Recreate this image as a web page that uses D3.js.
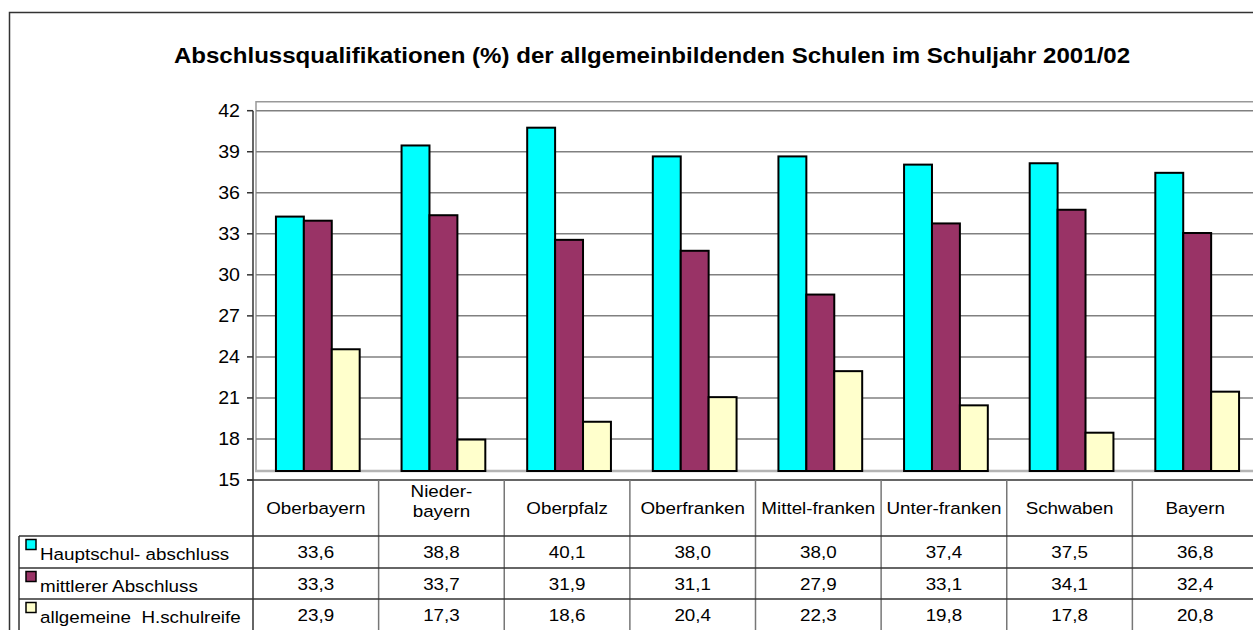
<!DOCTYPE html>
<html>
<head>
<meta charset="utf-8">
<script src="https://cdn.jsdelivr.net/npm/d3@7"></script>
<style>
  body { margin: 0; background: #fff; }
  svg { display: block; font-family: "Liberation Sans", Arial, sans-serif; }
</style>
</head>
<body>
<div id="root"></div>
<script>
const width = 1253;
const height = 630;

const title = "Abschlussqualifikationen (%) der allgemeinbildenden Schulen im Schuljahr 2001/02";
const categories = ["Oberbayern", "Nieder-\nbayern", "Oberpfalz", "Oberfranken", "Mittel-franken", "Unter-franken", "Schwaben", "Bayern"];
const seriesNames = ["Hauptschul- abschluss", "mittlerer Abschluss", "allgemeine  H.schulreife"];
const hauptschul = [33.6, 38.8, 40.1, 38.0, 38.0, 37.4, 37.5, 36.8];
const mittlerer = [33.3, 33.7, 31.9, 31.1, 27.9, 33.1, 34.1, 32.4];
const hschulreife = [23.9, 17.3, 18.6, 20.4, 22.3, 19.8, 17.8, 20.8];
const yTicks = [15, 18, 21, 24, 27, 30, 33, 36, 39, 42];
const colors = ["#00ffff", "#993366", "#ffffcc"];

const seriesValues = [hauptschul, mittlerer, hschulreife];
const fmt = d3.formatLocale({decimal: ",", thousands: ".", grouping: [3], currency: ["", "€"]}).format(".1f");

// plot geometry (Excel 3D look: bars sit on a plane shifted up/right)
const plotLeft = 253, plotRight = 1258;
const depthX = 2, depthY = -9;
const stretch = 1.12;   // text in the original is a bit wider than Arial
const rowTops = [536, 568, 599];

const svg = d3.select("#root").append("svg")
  .attr("width", width)
  .attr("height", height);

const y = d3.scaleLinear().domain([15, 42]).range([480, 110.7]);
const x = d3.scaleBand().domain(categories).range([plotLeft, plotRight]);
const xSub = d3.scaleBand().domain(seriesNames)
  .range([x.bandwidth() / 6, x.bandwidth() * 5 / 6]);

function label(g, tx, ty, str, anchor, size) {
  return g.append("text")
    .attr("transform", `translate(${tx},${ty}) scale(${stretch},1)`)
    .attr("text-anchor", anchor)
    .attr("font-size", size || 16.8)
    .style("white-space", "pre")
    .attr("fill", "#000")
    .text(str);
}

// outer chart border
svg.append("rect")
  .attr("x", 9.5).attr("y", 12.5)
  .attr("width", 1400).attr("height", 800)
  .attr("fill", "none")
  .attr("stroke", "#333")
  .attr("stroke-width", 1.5);

label(svg, 652, 63, title, "middle", 21.5)
  .attr("font-weight", "bold");

// back wall
const wall = svg.append("g");
wall.append("path")
  .attr("d", `M${plotLeft + depthX + 1},${y(15) + depthY} V${y(42) + depthY} H${plotRight}`)
  .attr("fill", "none").attr("stroke", "#999").attr("stroke-width", 1.5);
wall.append("line")
  .attr("x1", plotLeft + depthX).attr("x2", plotRight)
  .attr("y1", y(15) + depthY).attr("y2", y(15) + depthY)
  .attr("stroke", "#b4b4b4").attr("stroke-width", 2.5);

wall.selectAll(".grid")
  .data(yTicks.filter(d => d > 15))
  .enter()
  .append("line")
  .attr("class", "grid")
  .attr("x1", plotLeft + depthX + 1).attr("x2", plotRight)
  .attr("y1", d => y(d)).attr("y2", d => y(d))
  .attr("stroke", "#808080")
  .attr("stroke-width", 1.5);

// y axis
const yAxis = svg.append("g");
yAxis.append("line")
  .attr("x1", plotLeft).attr("x2", plotLeft)
  .attr("y1", y(42)).attr("y2", y(15))
  .attr("stroke", "#333").attr("stroke-width", 1.5);
yAxis.selectAll(".tick")
  .data(yTicks)
  .enter()
  .append("line")
  .attr("x1", plotLeft - 6).attr("x2", plotLeft)
  .attr("y1", d => y(d)).attr("y2", d => y(d))
  .attr("stroke", "#333").attr("stroke-width", 1.5);
yTicks.forEach(t => label(yAxis, 240, y(t) + 6, String(t), "end", 17.5));

// bars
const groups = svg.selectAll(".series")
  .data(seriesValues)
  .enter()
  .append("g")
  .attr("fill", (d, i) => colors[i]);

groups.each(function(vals, si) {
  d3.select(this).selectAll("rect")
    .data(vals)
    .enter()
    .append("rect")
    .attr("x", (d, i) => x(categories[i]) + xSub(seriesNames[si]) + depthX)
    .attr("y", d => y(d) + depthY)
    .attr("width", xSub.bandwidth())
    .attr("height", d => y(15) - y(d))
    .attr("stroke", "#000")
    .attr("stroke-width", 2);
});

// category axis / data table
const table = svg.append("g");
table.append("line")
  .attr("x1", plotLeft - 6).attr("x2", plotRight)
  .attr("y1", y(15)).attr("y2", y(15))
  .attr("stroke", "#333").attr("stroke-width", 1.5);

table.selectAll(".vline")
  .data(categories.concat(["end"]))
  .enter()
  .append("line")
  .attr("x1", (d, i) => plotLeft + i * x.step())
  .attr("x2", (d, i) => plotLeft + i * x.step())
  .attr("y1", y(15)).attr("y2", height)
  .attr("stroke", (d, i) => i === 0 ? "#333" : "#777")
  .attr("stroke-width", 1.5);

table.append("line")
  .attr("x1", 19).attr("x2", 19)
  .attr("y1", rowTops[0]).attr("y2", height)
  .attr("stroke", "#333").attr("stroke-width", 1.5);

table.selectAll(".hline")
  .data(rowTops)
  .enter()
  .append("line")
  .attr("x1", 19).attr("x2", plotRight)
  .attr("y1", d => d).attr("y2", d => d)
  .attr("stroke", "#333").attr("stroke-width", 1.5);

categories.forEach(c => {
  const cx = x(c) + x.bandwidth() / 2;
  const lines = c.split("\n");
  if (lines.length === 1) {
    label(table, cx, 514, c, "middle");
  } else {
    label(table, cx, 497, lines[0], "middle");
    label(table, cx, 517, lines[1], "middle");
  }
});

seriesValues.forEach((vals, si) => {
  const top = rowTops[si];
  table.append("rect")
    .attr("x", 26).attr("y", top + 3.5)
    .attr("width", 10).attr("height", 10)
    .attr("fill", colors[si])
    .attr("stroke", "#000").attr("stroke-width", 1.5);
  label(table, 40, top + 24, seriesNames[si], "start");
  vals.forEach((v, i) => {
    label(table, x(categories[i]) + x.bandwidth() / 2, top + 22, fmt(v), "middle");
  });
});
</script>
</body>
</html>
